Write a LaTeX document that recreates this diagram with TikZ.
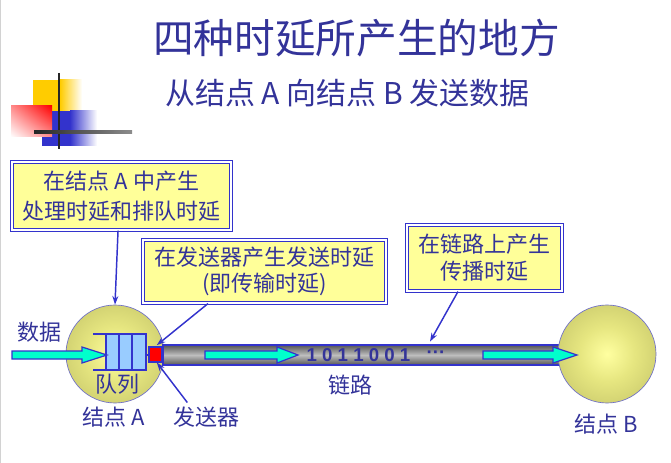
\documentclass[tikz,border=0pt]{standalone}
\usepackage{fontspec}
\setmainfont{Noto Sans CJK SC}
\newfontfamily\latinfont{Liberation Sans}
\usetikzlibrary{arrows.meta,calc,shadings}
\definecolor{txtblue}{RGB}{51,51,153}
\definecolor{titleblue}{RGB}{51,51,153}
\definecolor{lineblue}{RGB}{51,51,204}
\definecolor{boxfill}{RGB}{255,255,153}
\definecolor{ballin}{RGB}{255,255,160}
\definecolor{ballmid}{RGB}{230,230,128}
\definecolor{ballmid2}{RGB}{196,196,104}
\definecolor{ballout}{RGB}{160,160,82}
\definecolor{ballline}{RGB}{110,110,200}
\definecolor{aqua}{RGB}{0,255,204}
\definecolor{qfill}{RGB}{153,204,255}
\definecolor{logoyellow}{RGB}{255,204,0}
\definecolor{logoblue}{RGB}{51,51,204}
\definecolor{tubedark}{RGB}{85,85,85}
\definecolor{tubelight}{RGB}{190,190,190}
\pgfdeclareradialshading{ballshade}{\pgfpoint{0bp}{0bp}}{color(0bp)=(ballin); color(14bp)=(ballmid); color(34bp)=(ballmid2); color(50bp)=(ballout)}
\newcommand{\flowarrow}[3]{\filldraw[flow] (#1,-351) -- (#2,-351) -- (#2,-347) -- (#3,-355) -- (#2,-363) -- (#2,-359) -- (#1,-359) -- cycle;}
\begin{document}
\begin{tikzpicture}[x=0.75pt,y=0.75pt,
  note/.style={draw=lineblue, double=white, double distance=1.2pt, line width=0.9pt, fill=boxfill, align=center, text=txtblue, inner sep=0pt},
  lbl/.style={text=txtblue, font=\fontsize{16.5}{18}\selectfont, inner sep=0pt},
  ptr/.style={draw=lineblue, line width=1.1pt, -{Stealth[length=6.5pt,width=4.5pt]}},
  ball/.style={circle, draw=ballline, line width=0.5pt, shading=ballshade, minimum size=73.5pt, inner sep=0pt},
  flow/.style={draw=lineblue, line width=0.9pt, fill=aqua},
  tube/.style={rectangle, draw=lineblue, line width=0.8pt, top color=tubedark, bottom color=tubedark, middle color=tubelight, minimum width=297.75pt, minimum height=15pt, inner sep=0pt}
]
\useasboundingbox (0,0) rectangle (671,-463);
\draw[gray!35, line width=0.75pt] (0.5,0) -- (0.5,-463);

% logo
\fill[logoyellow] (33,-80) rectangle (60,-111);
\shade[left color=logoyellow, right color=white] (60,-80) rectangle (82,-111);
\fill[logoblue] (42,-111) rectangle (70,-146);
\shade[left color=logoblue, right color=white] (70,-111) rectangle (97,-146);
\shade[upper right=red, lower left=white, upper left=red!45!white, lower right=red!45!white] (11,-106) rectangle (52,-137);
\draw[line width=1.5pt, black!85] (59,-73) -- (59,-149);
\shade[left color=black!85, right color=black!45] (34,-131) rectangle (132,-133.5);

% titles
\node[text=titleblue, font=\fontsize{30.5}{32}\selectfont] (title) at (356.5,-38.5) {四种时延所产生的地方};
\node[text=titleblue, font=\fontsize{22.5}{24}\selectfont] (subtitle) at (347.5,-93.5) {从结点 A 向结点 B 发送数据};

% notes
\node[note, minimum width=164.25pt, minimum height=51pt, font=\fontsize{16.5}{22.5}\selectfont] (b1) at (121.5,-196) {在结点 A 中产生\\处理时延和排队时延};
\node[note, minimum width=182.25pt, minimum height=47.25pt, font=\fontsize{16.5}{20}\selectfont] (b2) at (264.5,-271.5) {在发送器产生发送时延\\(即传输时延)};
\node[note, minimum width=116.25pt, minimum height=49.5pt, font=\fontsize{16.5}{20}\selectfont] (b3) at (484.5,-258) {在链路上产生\\传播时延};

% nodes and link
\node[ball] (A) at (115,-354) {};
\node[tube] (link) at (361.5,-355) {};
\node[ball] (B) at (607,-354) {};

% queue
\filldraw[fill=qfill, draw=lineblue, line width=1pt] (106,-334) rectangle (119,-370) (119,-334) rectangle (132,-370) (132,-334) rectangle (146,-370);
\draw[lineblue, line width=1.2pt] (93,-334) -- (146,-334) (93,-370) -- (146,-370);
\draw[lineblue, line width=1pt] (146,-355) -- (149,-355);
\node[draw=lineblue, fill=red, line width=0.8pt, minimum width=9.75pt, minimum height=11.25pt, inner sep=0pt] (tx) at (155.5,-354.5) {};

% flow arrows
\flowarrow{12}{82}{107}
\flowarrow{205}{277}{298}
\flowarrow{483}{553}{577}

% texts
\node[text=txtblue, font=\latinfont\bfseries\fontsize{14}{16}\selectfont, inner sep=0pt] (bits) at (358.5,-355) {1 0 1 1 0 0 1};
\node[text=txtblue, font=\latinfont\bfseries\fontsize{14}{16}\selectfont, inner sep=0pt] (dots) at (436,-355) {···};
\node[lbl] (data) at (39,-332.5) {数据};
\node[lbl] (queue) at (117.5,-384) {队列};
\node[lbl] (la) at (114,-417.5) {结点 A};
\node[lbl] (snd) at (206,-417) {发送器};
\node[lbl] (lk) at (350,-385) {链路};
\node[lbl] (lb) at (606,-424) {结点 B};

% pointers
\draw[ptr] ([xshift=-2.6pt]b1.south) -- (A.north);
\draw[ptr] ([xshift=-42.4pt]b2.south) -- ([shift={(1pt,1pt)}]tx.north);
\draw[ptr] ([xshift=-19.9pt]b3.south) -- ([shift={(51.4pt,2.2pt)}]link.north);
\draw[ptr] ([shift={(-14pt,3pt)}]snd.north) -- ([xshift=1pt]tx.south);
\end{tikzpicture}
\end{document}
